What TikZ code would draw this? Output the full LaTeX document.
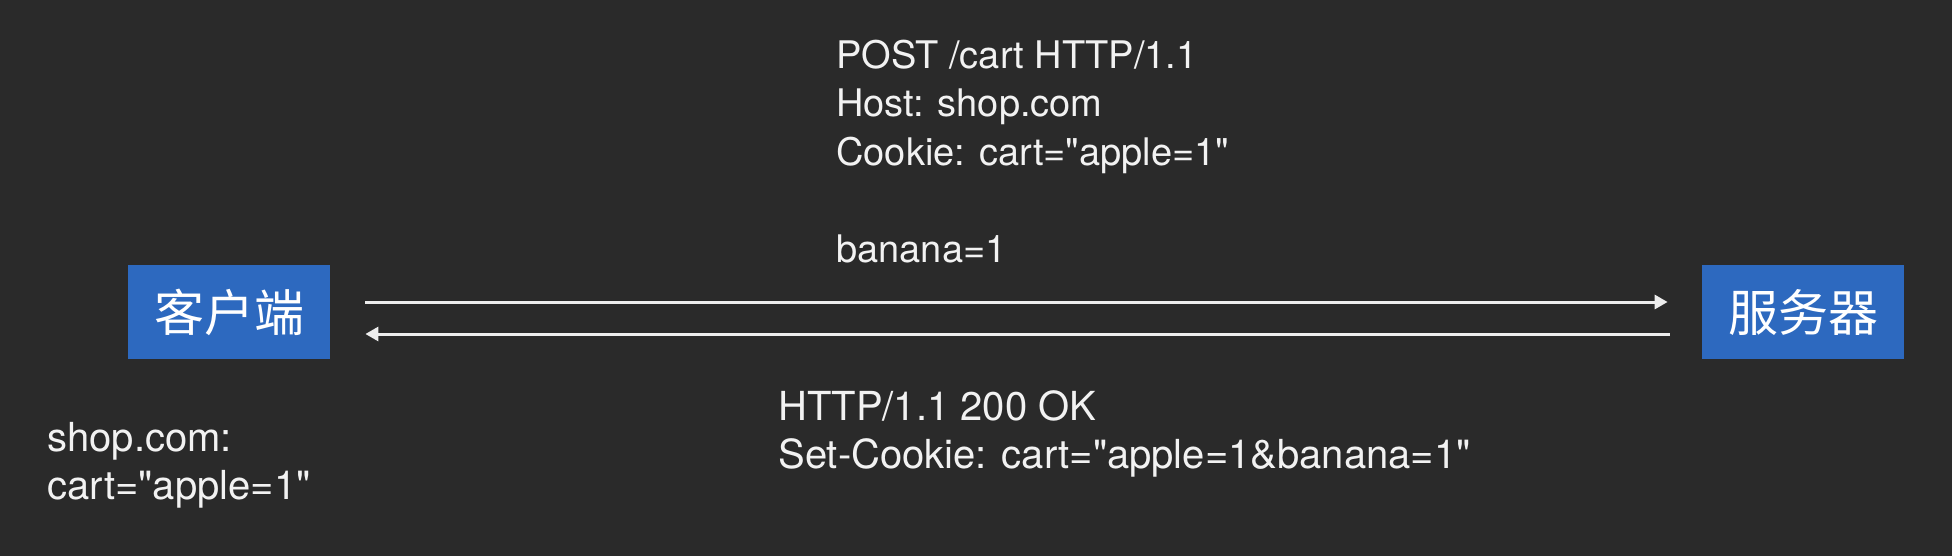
\documentclass[tikz,border=0pt]{standalone}
\usepackage{fontspec}
\setmainfont{TeX Gyre Heros}[Ligatures=TeXOff]
\newfontfamily\cjk{Noto Sans CJK SC}
\usetikzlibrary{arrows.meta}
\usetikzlibrary{positioning}
\definecolor{bgdark}{HTML}{2A2A2A}
\definecolor{boxblue}{HTML}{2D69BF}
\definecolor{msgtext}{HTML}{F2F2F2}
\definecolor{wiregray}{HTML}{EDEDED}

\begin{document}
\begin{tikzpicture}[x=0.5pt,y=-0.5pt,
		endpoint/.style={fill=boxblue, text=white, inner sep=0pt,
			minimum width=101pt, minimum height=47pt,
			font=\cjk\fontsize{25}{25}\selectfont},
		msg/.style={text=msgtext, align=left, inner sep=0pt, anchor=base west,
			font=\fontsize{19}{24.25}\selectfont},
		bigmsg/.style={msg, font=\fontsize{20}{23.75}\selectfont},
		wire/.style={draw=wiregray, line width=1.5pt,
			-{Triangle[length=6.5pt,width=7pt]}}]
	% background
	\fill[bgdark] (0,0) rectangle (1952,556);
	\useasboundingbox (0,0) rectangle (1952,556);
	% endpoints
	\node[endpoint] (client) at (229,312) {客户端};
	\node[endpoint] (server) at (1803,312) {服务器};
	% request and response
	\draw[wire, shorten <=17.5pt, shorten >=17pt]
		([yshift=5pt]client.east) -- ([yshift=5pt]server.west);
	\draw[wire, shorten <=16pt, shorten >=17.5pt]
		([yshift=-11pt]server.west) -- ([yshift=-11pt]client.east);
	% messages (base = last line)
	\node[msg] (request) at (836,262)
		{POST /cart HTTP/1.1\\Host: shop.com\\Cookie: cart="apple=1"\\[24.25pt]banana=1};
	\node[bigmsg] (response) at (778,468)
		{HTTP/1.1 200 OK\\Set-Cookie: cart="apple=1\&banana=1"};
	\node[bigmsg] (store) at (47,499)
		{shop.com:\\cart="apple=1"};
\end{tikzpicture}
\end{document}
